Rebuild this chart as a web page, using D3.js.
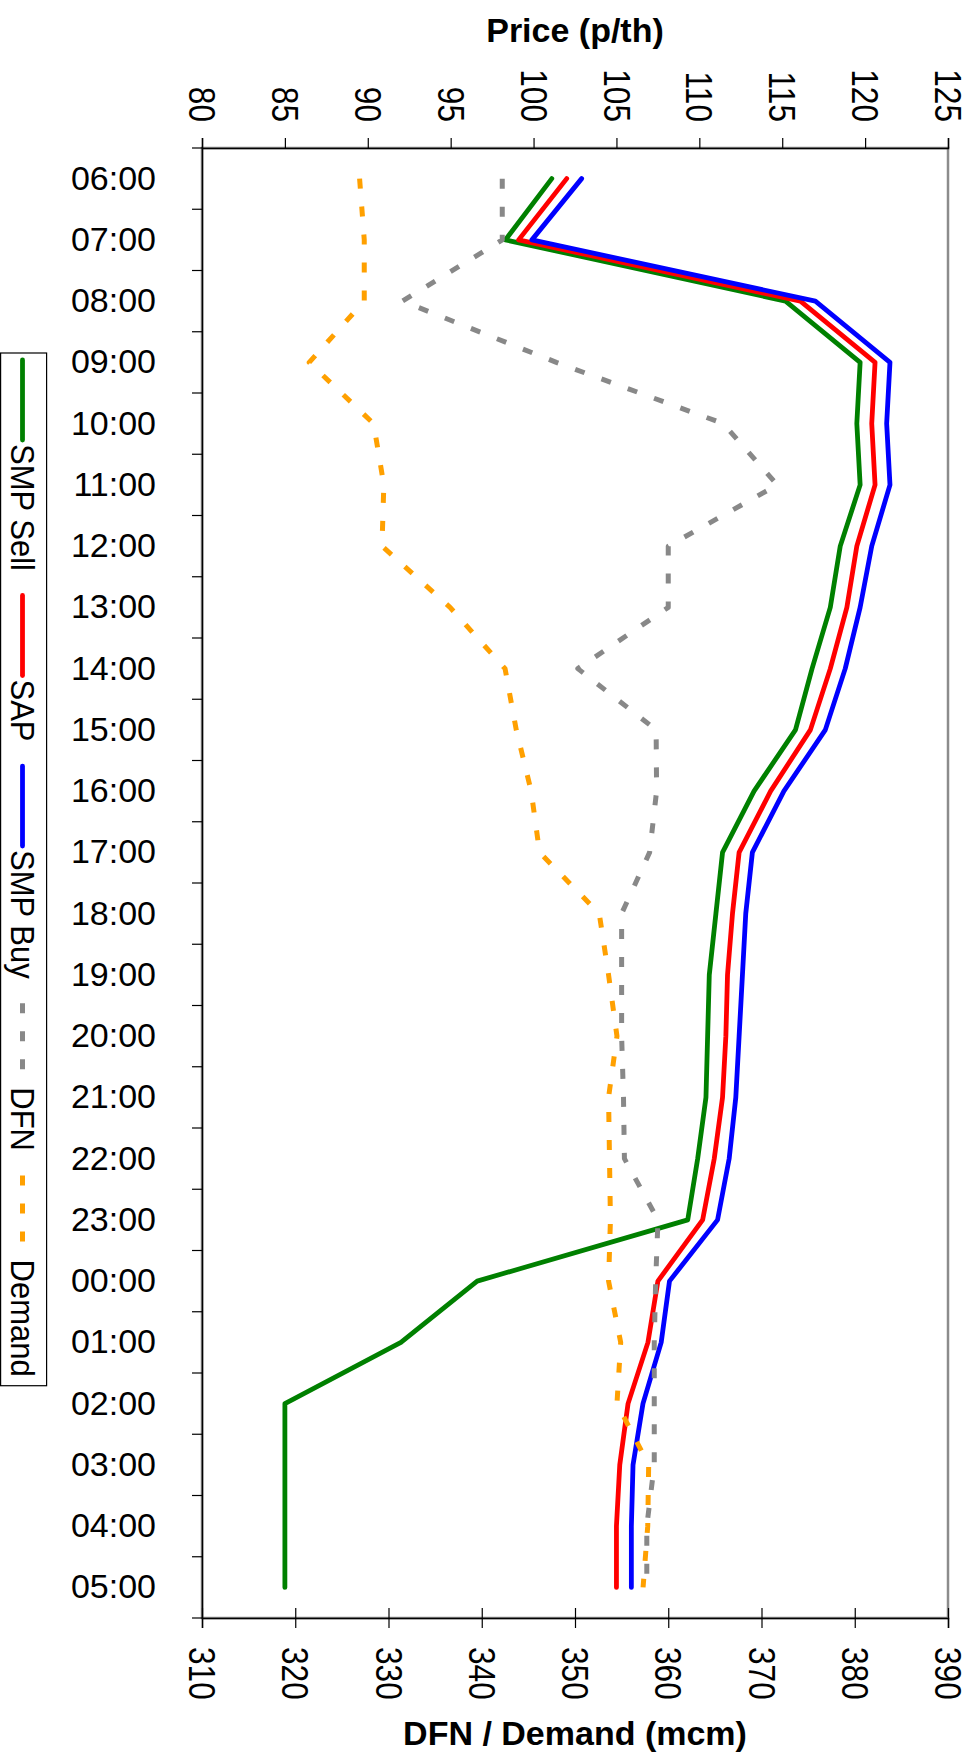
<!DOCTYPE html>
<html><head><meta charset="utf-8">
<script src="https://cdn.jsdelivr.net/npm/d3@7"></script>
<style>
body{margin:0;background:#fff;}
svg{display:block;font-family:"Liberation Sans",Arial,Helvetica,sans-serif;}
</style></head>
<body><svg id="chart" width="973" height="1758"></svg>
<script>
const times = ["06:00","07:00","08:00","09:00","10:00","11:00","12:00","13:00","14:00","15:00","16:00","17:00",
               "18:00","19:00","20:00","21:00","22:00","23:00","00:00","01:00","02:00","03:00","04:00","05:00"];
const smpSell = [101.1,98.3,115.2,119.7,119.5,119.7,118.5,117.9,116.8,115.8,113.3,111.4,
                 111.0,110.6,110.5,110.4,109.9,109.3,96.6,92.0,85.0,85.0,85.0,85.0];
const sap     = [102.0,99.1,116.1,120.6,120.4,120.6,119.5,118.9,117.9,116.7,114.3,112.4,
                 112.0,111.7,111.6,111.4,110.9,110.2,107.5,106.9,105.7,105.2,105.0,105.0];
const smpBuy  = [102.9,99.9,117.0,121.5,121.3,121.5,120.4,119.7,118.8,117.6,115.1,113.2,
                 112.8,112.6,112.4,112.2,111.8,111.1,108.2,107.7,106.6,106.0,105.9,105.9];
const dfn     = [342.2,342.2,331.5,348.0,365.9,371.7,360.0,360.0,350.3,358.7,358.75,358.0,
                 355.0,355.0,355.0,355.2,355.3,358.9,358.65,358.5,358.5,358.5,357.7,357.7];
const demand  = [326.9,327.4,327.4,321.5,328.4,329.5,329.3,336.6,342.5,343.7,345.3,346.2,
                 352.6,353.6,354.5,353.6,353.7,353.8,353.6,354.9,354.5,357.9,357.8,357.3];
const priceTicks = [80,85,90,95,100,105,110,115,120,125];
const mcmTicks = [310,320,330,340,350,360,370,380,390];

const series = [
  {name:"SMP Sell", values:smpSell, axis:"price", color:"#008000", dash:null},
  {name:"SAP",      values:sap,     axis:"price", color:"#ff0000", dash:null},
  {name:"SMP Buy",  values:smpBuy,  axis:"price", color:"#0000ff", dash:null},
  {name:"DFN",      values:dfn,     axis:"mcm",   color:"#888888", dash:"10,18"},
  {name:"Demand",   values:demand,  axis:"mcm",   color:"#ffa000", dash:"10,18"}
];

const L=202, R=948, T=148, B=1618;
const svg = d3.select("#chart");
const xPrice = d3.scaleLinear().domain([80,125]).range([L,R]);
const xMcm = d3.scaleLinear().domain([310,390]).range([L,R]);
const y = d3.scaleBand().domain(times).range([T,B]);
const cy = t => y(t) + y.bandwidth()/2;

// frame
svg.append("rect").attr("x",L).attr("y",T).attr("width",R-L).attr("height",B-T)
  .attr("fill","none").attr("stroke","#8c8c8c").attr("stroke-width",2.5);

// series
series.forEach(s=>{
  const xs = s.axis==="price" ? xPrice : xMcm;
  const line = d3.line().x(d=>xs(d.v)).y(d=>cy(d.t));
  const pts = s.values.map((v,i)=>({v, t:times[i]}));
  svg.append("path").datum(pts).attr("d",line)
    .attr("fill","none").attr("stroke",s.color)
    .attr("stroke-width", s.dash ? 5 : 4.8)
    .attr("stroke-dasharray", s.dash)
    .attr("stroke-linecap", s.dash ? "butt" : "round")
    .attr("stroke-linejoin","round");
});

// top axis (price)
const gTop = svg.append("g").attr("transform",`translate(0,${T})`)
  .call(d3.axisTop(xPrice).tickValues(priceTicks).tickSize(10).tickFormat(d3.format("d")));
gTop.select(".domain").attr("stroke","#000").attr("stroke-width",1.5);
gTop.selectAll(".tick line").attr("stroke","#000").attr("stroke-width",1.2);
gTop.selectAll(".tick text")
  .attr("x",0).attr("y",0).attr("dy","0.36em")
  .attr("transform","translate(0,-26) rotate(90) scale(0.855,1)")
  .style("text-anchor","end").style("font-size","37px").attr("fill","#000");

// bottom axis (mcm)
const gBot = svg.append("g").attr("transform",`translate(0,${B})`)
  .call(d3.axisBottom(xMcm).tickValues(mcmTicks).tickSize(10).tickFormat(d3.format("d")));
gBot.select(".domain").attr("stroke","#000").attr("stroke-width",1.5);
gBot.selectAll(".tick line").attr("y1",-10).attr("y2",10).attr("stroke","#000").attr("stroke-width",1.2);
gBot.selectAll(".tick text")
  .attr("x",0).attr("y",0).attr("dy","0.36em")
  .attr("transform","translate(0,29) rotate(90) scale(0.855,1)")
  .style("text-anchor","start").style("font-size","37px").attr("fill","#000");

// left axis (time)
const gLeft = svg.append("g").attr("transform",`translate(${L},0)`)
  .call(d3.axisLeft(y).tickSize(0).tickPadding(46));
gLeft.select(".domain").attr("stroke","#000").attr("stroke-width",1.5);
gLeft.selectAll(".tick text").style("font-size","34px").attr("fill","#000");
const bounds = times.map(t=>y(t)).concat([y.range()[1]]);
gLeft.selectAll("line.bnd").data(bounds).enter().append("line").attr("class","bnd")
  .attr("x1",-10).attr("x2",0).attr("y1",d=>d).attr("y2",d=>d)
  .attr("stroke","#000").attr("stroke-width",1.2);

// titles
svg.append("text").attr("x",(L+R)/2).attr("y",41.5).attr("text-anchor","middle")
  .style("font-size","34px").style("font-weight","bold").text("Price (p/th)");
svg.append("text").attr("x",(L+R)/2).attr("y",1745).attr("text-anchor","middle")
  .style("font-size","34px").style("font-weight","bold").text("DFN / Demand (mcm)");

// legend
const lg = svg.append("g");
const lx = 22.5, sampleLen = 80, sx = 0.94;
let pos = 360;
const items = [];
series.forEach(s=>{
  const sStart = pos;
  lg.append("line").attr("x1",lx).attr("x2",lx).attr("y1",sStart).attr("y2",sStart+sampleLen)
    .attr("stroke",s.color).attr("stroke-width", s.dash?5:4.8)
    .attr("stroke-dasharray",s.dash).attr("stroke-linecap", s.dash?"butt":"round");
  const tStart = sStart + 84;
  const t = lg.append("text").attr("x",0).attr("y",0).attr("dy","0.36em")
    .attr("transform",`translate(${lx},${tStart}) rotate(90) scale(${sx},1)`)
    .style("font-size","33px").text(s.name);
  const len = t.node().getComputedTextLength()*sx;
  pos = tStart + len + 24.5;
  items.push(tStart+len);
});
const lEnd = items[items.length-1] + 9;
lg.insert("rect",":first-child").attr("x",0.6).attr("y",353).attr("width",46).attr("height",lEnd-353)
  .attr("fill","#fff").attr("stroke","#000").attr("stroke-width",1.2);
</script></body></html>
